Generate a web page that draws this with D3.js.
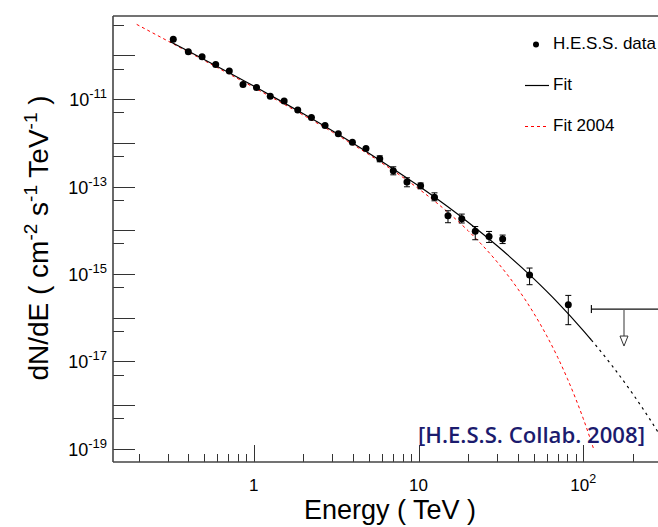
<!DOCTYPE html>
<html>
<head>
<meta charset="utf-8">
<script src="https://cdn.jsdelivr.net/npm/d3@7"></script>
<style>
  html, body { margin: 0; padding: 0; background: #fff; }
  svg { display: block; font-family: "Liberation Sans", Arial, Helvetica, sans-serif; }
</style>
</head>
<body>
<svg id="chart" width="658" height="527"></svg>
<script>
// ---------------- data ----------------
const energy = [0.325,0.401,0.486,0.588,0.711,0.861,1.04,1.26,1.53,1.85,2.24,2.71,3.26,3.97,4.80,5.82,7.03,8.51,10.3,12.5,15.1,18.3,22.1,26.8,32.4,47.2,81.1];
const flux   = [2.35e-10,1.22e-10,9.4e-11,6.18e-11,4.44e-11,2.16e-11,1.84e-11,1.17e-11,9.14e-12,5.69e-12,3.80e-12,2.49e-12,1.61e-12,1.04e-12,7.43e-13,4.32e-13,2.30e-13,1.27e-13,1.04e-13,5.69e-14,2.15e-14,1.84e-14,9.51e-15,7.23e-15,6.34e-15,9.53e-16,1.99e-16];
const fluxHigh = [null,null,null,null,null,null,null,null,null,null,null,null,null,null,null,5.06e-13,2.84e-13,1.59e-13,1.21e-13,7.2e-14,2.80e-14,2.35e-14,1.22e-14,9.42e-15,7.78e-15,1.37e-15,3.24e-16];
const fluxLow  = [null,null,null,null,null,null,null,null,null,null,null,null,null,null,null,3.69e-13,1.86e-13,9.9e-14,8.9e-14,4.73e-14,1.49e-14,1.47e-14,6.08e-15,5.27e-15,4.97e-15,5.69e-16,6.93e-17];

// upper limit
const ulEnergy = [176.6];
const ulEnergyLow = [112];
const ulEnergyHigh = [300];
const ulFlux = [1.58e-16];

// Fit (solid part and dashed extrapolation)
const fitE = [0.31,0.4,0.5,0.7,1,1.5,2,3,5,7,10,15,20,30,50,70,100,112];
const fitF = [2.08e-10,1.26e-10,8.11e-11,4.14e-11,2.00e-11,8.56e-12,4.62e-12,1.89e-12,5.81e-13,2.57e-13,1.04e-13,3.49e-14,1.53e-14,4.42e-15,7.84e-16,2.22e-16,5.09e-17,3.09e-17];
const fitExtE = [112,150,200,250,300];
const fitExtF = [3.09e-17,7.86e-18,1.79e-18,5.15e-19,1.73e-19];

// Fit 2004
const fit04E = [0.195,0.3,0.5,1,2,3,5,7,10,15,20,30,40,50,60,70,80,90,100,115];
const fit04F = [5.14e-10,2.16e-10,7.69e-11,1.86e-11,4.31e-12,1.77e-12,5.41e-13,2.34e-13,8.96e-14,2.63e-14,9.77e-15,1.89e-15,4.61e-16,1.28e-16,3.85e-17,1.23e-17,4.07e-18,1.39e-18,4.89e-19,1.05e-19];

// axis ticks
const xMajorTicks = [1, 10, 100];
const xTickLabels = [{base:"1", sup:""},{base:"10", sup:""},{base:"10", sup:"2"}];
const yMajorExps = [-10,-11,-12,-13,-14,-15,-16,-17,-18,-19];
const yLabelExps = [-11,-13,-15,-17,-19];

const legendLabels = ["H.E.S.S. data", "Fit", "Fit 2004"];
const annotation = "[H.E.S.S. Collab. 2008]";

// ---------------- layout ----------------
const L = 113, R = 658, T = 16, B = 462;
const svg = d3.select("#chart");
const x = d3.scaleLog().domain([0.14, 284]).range([L, R]);
const y = d3.scaleLog().domain([5e-20, 8e-10]).range([B, T]);

svg.append("defs").append("clipPath").attr("id","clip")
  .append("rect").attr("x", L).attr("y", T).attr("width", R - L).attr("height", B - T);

// ---- ticks
const gT = svg.append("g").attr("stroke", "#333").attr("stroke-width", 1);
const xMinor = [];
for (let d = -1; d <= 2; d++) for (let k = 1; k <= 9; k++) {
  const v = k * Math.pow(10, d);
  if (v >= 0.14 && v <= 284) xMinor.push(v);
}
xMinor.forEach(v => {
  const major = xMajorTicks.some(m => Math.abs(m - v) < 1e-9);
  const px = Math.round(x(v)) + 0.5;
  gT.append("line").attr("x1", px).attr("x2", px)
    .attr("y1", B).attr("y2", B - (major ? 17 : 8));
});
yMajorExps.forEach(e => {
  const py = Math.round(y(Math.pow(10, e))) + 0.5;
  gT.append("line").attr("x1", L).attr("x2", L + 22).attr("y1", py).attr("y2", py);
});
for (let e = -20; e <= -10; e++) {
  const v = 5 * Math.pow(10, e);
  if (v > 5.5e-20 && v < 8e-10) {
    const py = Math.round(y(v)) + 0.5;
    gT.append("line").attr("x1", L).attr("x2", L + 11).attr("y1", py).attr("y2", py);
  }
}

// ---- frame
const gF = svg.append("g").attr("stroke", "#444").attr("stroke-width", 1.6).attr("fill", "none");
gF.append("line").attr("x1", L).attr("x2", R).attr("y1", T).attr("y2", T);
gF.append("line").attr("x1", L).attr("x2", L).attr("y1", T).attr("y2", B);
gF.append("line").attr("x1", L).attr("x2", R).attr("y1", B).attr("y2", B);

// ---- tick labels
xMajorTicks.forEach((v, i) => {
  const t = svg.append("text").attr("x", x(v)).attr("y", 491)
    .attr("text-anchor", "middle").attr("font-size", 17).attr("fill", "#000");
  t.append("tspan").text(xTickLabels[i].base);
  if (xTickLabels[i].sup) t.append("tspan").attr("dy", -8).attr("font-size", 12.5).text(xTickLabels[i].sup);
});
yLabelExps.forEach(e => {
  const t = svg.append("text").attr("x", 107).attr("y", y(Math.pow(10, e)) + 7)
    .attr("text-anchor", "end").attr("font-size", 18).attr("fill", "#000");
  t.append("tspan").text("10");
  t.append("tspan").attr("dy", -8).attr("font-size", 13).text(String(e));
});

// ---- axis titles
svg.append("text").attr("x", 390).attr("y", 519).attr("text-anchor", "middle")
  .attr("font-size", 27).text("Energy ( TeV )");
const yt = svg.append("text").attr("transform", "translate(48,238) rotate(-90)")
  .attr("text-anchor", "middle").attr("font-size", 28);
yt.append("tspan").text("dN/dE ( cm");
yt.append("tspan").attr("dy", -11).attr("font-size", 19).text("-2");
yt.append("tspan").attr("dy", 11).text(" s");
yt.append("tspan").attr("dy", -11).attr("font-size", 19).text("-1");
yt.append("tspan").attr("dy", 11).text(" TeV");
yt.append("tspan").attr("dy", -11).attr("font-size", 19).text("-1");
yt.append("tspan").attr("dy", 11).text(" )");

// ---- curves
const gC = svg.append("g").attr("clip-path", "url(#clip)").attr("fill", "none");
const line = d3.line().x(d => x(d[0])).y(d => y(d[1])).curve(d3.curveMonotoneX);
gC.append("path").attr("d", line(fit04E.map((e, i) => [e, fit04F[i]])))
  .attr("stroke", "#ff0000").attr("stroke-width", 1).attr("stroke-dasharray", "3,3");
gC.append("path").attr("d", line(fitE.map((e, i) => [e, fitF[i]])))
  .attr("stroke", "#000").attr("stroke-width", 1.2);
gC.append("path").attr("d", line(fitExtE.map((e, i) => [e, fitExtF[i]])))
  .attr("stroke", "#000").attr("stroke-width", 1.2).attr("stroke-dasharray", "2.5,4");

// ---- data points with error bars
const gD = svg.append("g").attr("clip-path", "url(#clip)");
energy.forEach((e, i) => {
  if (fluxHigh[i] != null) {
    const px = x(e);
    gD.append("line").attr("x1", px).attr("x2", px).attr("y1", y(fluxHigh[i])).attr("y2", y(fluxLow[i]))
      .attr("stroke", "#000").attr("stroke-width", 1);
    [fluxHigh[i], fluxLow[i]].forEach(v => {
      gD.append("line").attr("x1", px - 3).attr("x2", px + 3).attr("y1", y(v)).attr("y2", y(v))
        .attr("stroke", "#000").attr("stroke-width", 1);
    });
  }
  gD.append("circle").attr("cx", x(e)).attr("cy", y(flux[i])).attr("r", 3.5).attr("fill", "#000");
});

// ---- upper limit
ulEnergy.forEach((e, i) => {
  const py = y(ulFlux[i]);
  gD.append("line").attr("x1", x(ulEnergyLow[i])).attr("x2", x(ulEnergyHigh[i]))
    .attr("y1", py).attr("y2", py).attr("stroke", "#111").attr("stroke-width", 1.2);
  gD.append("line").attr("x1", x(ulEnergyLow[i])).attr("x2", x(ulEnergyLow[i]))
    .attr("y1", py - 4).attr("y2", py + 4).attr("stroke", "#111").attr("stroke-width", 1.2);
  const px = x(e);
  gD.append("line").attr("x1", px).attr("x2", px).attr("y1", py).attr("y2", py + 27)
    .attr("stroke", "#555").attr("stroke-width", 1.2);
  gD.append("path").attr("d", `M${px - 4},${py + 27} L${px + 4},${py + 27} L${px},${py + 37} Z`)
    .attr("fill", "#fff").attr("stroke", "#333").attr("stroke-width", 1);
});

// ---- legend
const lg = svg.append("g");
lg.append("circle").attr("cx", 536).attr("cy", 44.5).attr("r", 3).attr("fill", "#000");
lg.append("line").attr("x1", 525).attr("x2", 549).attr("y1", 85.5).attr("y2", 85.5)
  .attr("stroke", "#000").attr("stroke-width", 1.2);
lg.append("line").attr("x1", 525).attr("x2", 549).attr("y1", 126.5).attr("y2", 126.5)
  .attr("stroke", "#ff0000").attr("stroke-width", 1).attr("stroke-dasharray", "3,3");
[49, 90, 131].forEach((yy, i) => {
  lg.append("text").attr("x", 553).attr("y", yy).attr("font-size", 17).text(legendLabels[i]);
});

// ---- annotation
svg.append("text").attr("x", 418).attr("y", 443)
  .attr("font-family", "'Open Sans', 'DejaVu Sans', sans-serif").attr("font-weight", 600)
  .attr("font-size", 22).attr("fill", "#1b1b6e")
  .attr("textLength", 227).attr("lengthAdjust", "spacingAndGlyphs")
  .text(annotation);
</script>
</body>
</html>
